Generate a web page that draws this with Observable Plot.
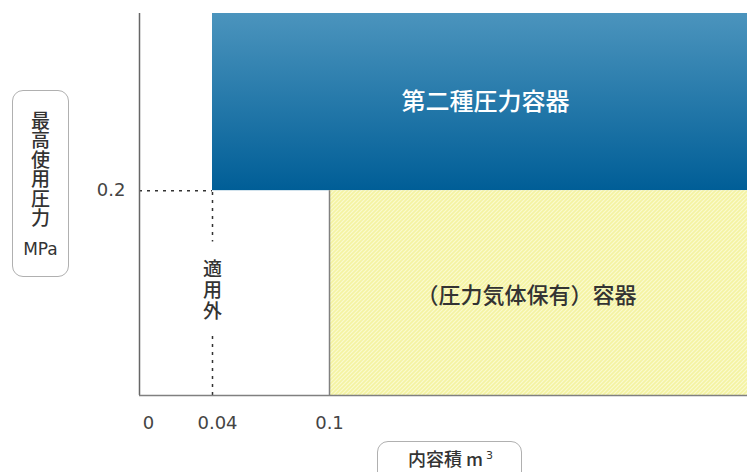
<!DOCTYPE html>
<html><head><meta charset="utf-8">
<script src="https://cdn.jsdelivr.net/npm/d3@7"></script>
<script src="https://cdn.jsdelivr.net/npm/@observablehq/plot@0.6"></script>
<style>
body{margin:0;background:#fff;}
#wrap{position:relative;width:747px;height:472px;overflow:hidden;font-family:"Noto Sans CJK JP",sans-serif;}
#wrap svg{position:absolute;left:0;top:0;}
.box{position:absolute;border:1.5px solid #b0b0b0;border-radius:11px;background:#fff;color:#333;box-sizing:border-box;}
#ylab{left:12px;top:90px;width:57px;height:187px;}
#ylab .v{position:absolute;left:17px;top:20px;writing-mode:vertical-rl;font-size:19px;line-height:20px;letter-spacing:0.5px;font-weight:500;}
#ylab .u{position:absolute;left:0;right:0;top:148px;text-align:center;font-size:17px;line-height:20px;font-family:"DejaVu Sans",sans-serif;}
#xlab{left:377px;top:441px;width:145px;height:45px;}
#xlab span.t{position:absolute;left:30px;top:2px;font-size:18px;line-height:24px;white-space:nowrap;font-weight:500;}
#xlab sup{font-size:11px;vertical-align:7px;margin-left:3px;font-family:"DejaVu Sans",sans-serif;}
</style></head>
<body>
<div id="wrap"></div>
<script>
// data
const regionNames = ["第二種圧力容器", "（圧力気体保有）容器"];
const regionX1 = [0.04, 0.1];
const regionX2 = [0.32, 0.32];
const regionY1 = [0.2, 0];
const regionY2 = [0.373, 0.2];
const outOfScopeLabel = "適用外";
const xTicks = [0, 0.04, 0.1];
const xTickLabels = ["0", "0.04", "0.1"];
const yTicks = [0.2];
const yTickLabels = ["0.2"];
const yAxisTitle = "最高使用圧力";
const yAxisUnit = "MPa";
const xAxisTitle = "内容積 m";
const xAxisUnitSup = "3";

const regions = regionNames.map((name, i) => ({name, x1: regionX1[i], x2: regionX2[i], y1: regionY1[i], y2: regionY2[i]}));

const tickDx = [9, 5, 0];
const num = "DejaVu Sans, sans-serif";
const jp = "Noto Sans CJK JP";
const labelY = yTicks[0] / 2;

const chart = Plot.plot({
  width: 747,
  height: 472,
  marginTop: 13,
  marginBottom: 77,
  marginLeft: 139,
  marginRight: 0,
  x: {type: "linear", domain: [0, 0.04, 0.1, 0.32], range: [139, 212, 329, 747], axis: null},
  y: {domain: [0, 0.373], axis: null},
  marks: [
    Plot.rect([regions[0]], {x1: "x1", x2: "x2", y1: "y1", y2: "y2", fill: "url(#blueGrad)"}),
    Plot.rect([regions[1]], {x1: "x1", x2: "x2", y1: "y1", y2: "y2", fill: "url(#yellowHatch)"}),
    Plot.ruleX([regions[1]], {x: "x1", y1: "y1", y2: "y2", stroke: "#808080", strokeWidth: 1.5}),
    // dotted guides
    Plot.ruleY(yTicks, {y: d => d, x1: 0, x2: regionX1[0], stroke: "#333", strokeWidth: 1.5, strokeDasharray: "3,5"}),
    Plot.ruleX([regionX1[0]], {y1: 0, y2: yTicks[0], stroke: "#333", strokeWidth: 1.5, strokeDasharray: "3,5"}),
    // knock-out gap behind the vertical label
    Plot.ruleX([regionX1[0]], {y1: labelY - 0.042, y2: labelY + 0.05, stroke: "white", strokeWidth: 8}),
    // axes lines
    Plot.ruleX([0], {y1: 0, y2: regionY2[0], stroke: "#666", strokeWidth: 1.5}),
    Plot.ruleY([0], {stroke: "#808080", strokeWidth: 1.5}),
    Plot.text([outOfScopeLabel], {x: regionX1[0], y: labelY, text: d => d, fontSize: 19, fill: "#333", fontWeight: 500, fontFamily: jp}),
    Plot.text([regions[0]], {x: d => (d.x1 + d.x2) / 2, y: d => (d.y1 + d.y2) / 2, text: "name", fill: "white", fontSize: 24, fontWeight: 500, dx: 4, fontFamily: jp}),
    Plot.text([regions[1]], {x: d => (d.x1 + d.x2) / 2, y: d => (d.y1 + d.y2) / 2, text: "name", fill: "#333", fontSize: 22, fontWeight: 500, dx: -12, dy: 3, fontFamily: jp}),
    ...xTicks.map((t, i) => Plot.text([t], {x: d => d, y: 0, text: () => xTickLabels[i], dy: 28, dx: tickDx[i], fontSize: 18, fill: "#444", fontFamily: num})),
    Plot.text(yTicks, {x: 0, y: d => d, text: (d, i) => yTickLabels[i], textAnchor: "end", dx: -14, fontSize: 18, fill: "#444", fontFamily: num})
  ]
});

const svg = d3.select(chart);
// vertical writing for the out-of-scope label
svg.selectAll("text")
  .filter(function () { return this.textContent === outOfScopeLabel; })
  .attr("dy", "-8")
  .attr("writing-mode", "vertical-rl")
  .style("writing-mode", "vertical-rl")
  .style("letter-spacing", "2px")
  .style("text-anchor", "middle");

const defs = svg.insert("defs", ":first-child");
const g = defs.append("linearGradient").attr("id", "blueGrad").attr("x1", 0).attr("y1", 0).attr("x2", 0).attr("y2", 1);
g.append("stop").attr("offset", "0%").attr("stop-color", "#4b94bd");
g.append("stop").attr("offset", "100%").attr("stop-color", "#005e97");
const p = defs.append("pattern").attr("id", "yellowHatch").attr("patternUnits", "userSpaceOnUse").attr("width", 4).attr("height", 4);
p.append("rect").attr("width", 4).attr("height", 4).attr("fill", "#f4f3a2");
p.append("path").attr("d", "M-1,1 l2,-2 M0,4 l4,-4 M3,5 l2,-2").attr("stroke", "#fbfbcf").attr("stroke-width", 1.2);

const wrap = document.getElementById("wrap");
wrap.appendChild(chart);

const yl = document.createElement("div");
yl.className = "box"; yl.id = "ylab";
yl.innerHTML = `<div class="v">${yAxisTitle}</div><div class="u">${yAxisUnit}</div>`;
wrap.appendChild(yl);

const xl = document.createElement("div");
xl.className = "box"; xl.id = "xlab";
xl.innerHTML = `<span class="t">${xAxisTitle}<sup>${xAxisUnitSup}</sup></span>`;
wrap.appendChild(xl);
</script>
</body></html>
